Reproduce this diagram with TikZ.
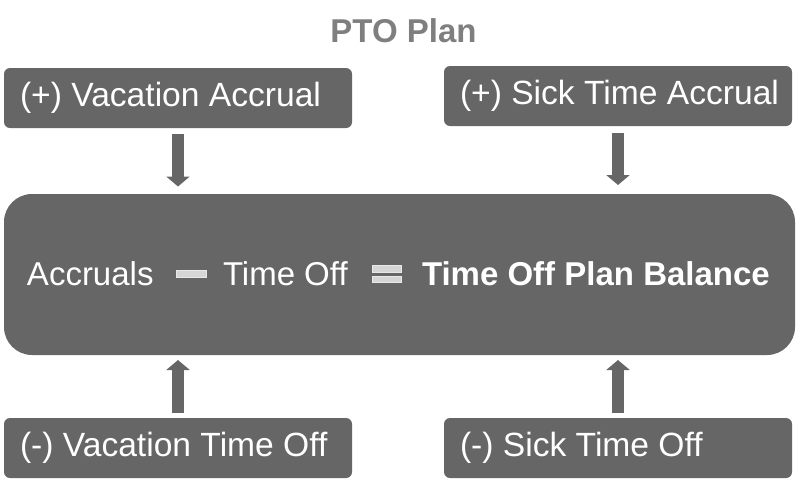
\documentclass[tikz,border=0pt]{standalone}
\usepackage{fontspec}
\setmainfont{Liberation Sans}
\usetikzlibrary{arrows.meta}
\definecolor{boxgray}{HTML}{666666}
\definecolor{titlegray}{HTML}{7F7F7F}
\definecolor{barfill}{HTML}{D6D6D6}
\definecolor{barline}{HTML}{E8E8E8}
\newcommand{\lbox}[1]{\makebox[316pt][l]{#1}}
\begin{document}
\begin{tikzpicture}[x=1pt,y=-1pt,
  every node/.style={inner sep=0pt,outer sep=0pt},
  bigfont/.style={font=\fontsize{33}{40}\selectfont},
  sidebox/.style={font=\fontsize{33.6}{40}\selectfont,text=white,fill=boxgray,rounded corners=6pt,
    minimum width=348pt,minimum height=60pt,inner xsep=16pt},
  mainbox/.style={fill=boxgray,rounded corners=28pt,minimum width=791pt,minimum height=161pt},
  maintext/.style={bigfont,text=white,anchor=base west},
  fatarrow/.style={draw=boxgray,line width=12pt,-{Triangle[width=23pt,length=10pt]}},
  opbar/.style={fill=barfill,draw=barline,line width=0.8pt}
]
\useasboundingbox (0,0) rectangle (800,488);
\node[bigfont,font=\fontsize{33}{40}\selectfont\bfseries,text=titlegray,anchor=base] (title) at (403.5,42) {PTO Plan};
\node[sidebox] (va) at (178,98) {\lbox{(+) Vacation Accrual}};
\node[sidebox] (sa) at (618,96) {\lbox{(+) Sick Time Accrual}};
\node[sidebox] (vo) at (178,448) {\lbox{(-) Vacation Time Off}};
\node[sidebox] (so) at (618,448) {\lbox{(-) Sick Time Off}};
\node[mainbox] (main) at (399.5,274.5) {};
\node[maintext] (acc) at (27,285.5) {Accruals};
\node[maintext] (toff) at (223,285.5) {Time Off};
\node[maintext,font=\fontsize{33}{40}\selectfont\bfseries] (bal) at (422,285.5) {Time Off Plan Balance};
\draw[opbar] (176.5,270.5) rectangle (206.5,277);
\draw[opbar] (372.5,265.5) rectangle (401.5,272);
\draw[opbar] (372.5,276) rectangle (401.5,282.5);
\draw[fatarrow,shorten <=6pt,shorten >=7.5pt] (va.south) -- (va.south |- main.north);
\draw[fatarrow,shorten <=7pt,shorten >=9pt] (sa.south) -- (sa.south |- main.north);
\draw[fatarrow,shorten <=5pt,shorten >=5pt] (vo.north) -- (vo.north |- main.south);
\draw[fatarrow,shorten <=5pt,shorten >=5pt] (so.north) -- (so.north |- main.south);
\end{tikzpicture}
\end{document}
